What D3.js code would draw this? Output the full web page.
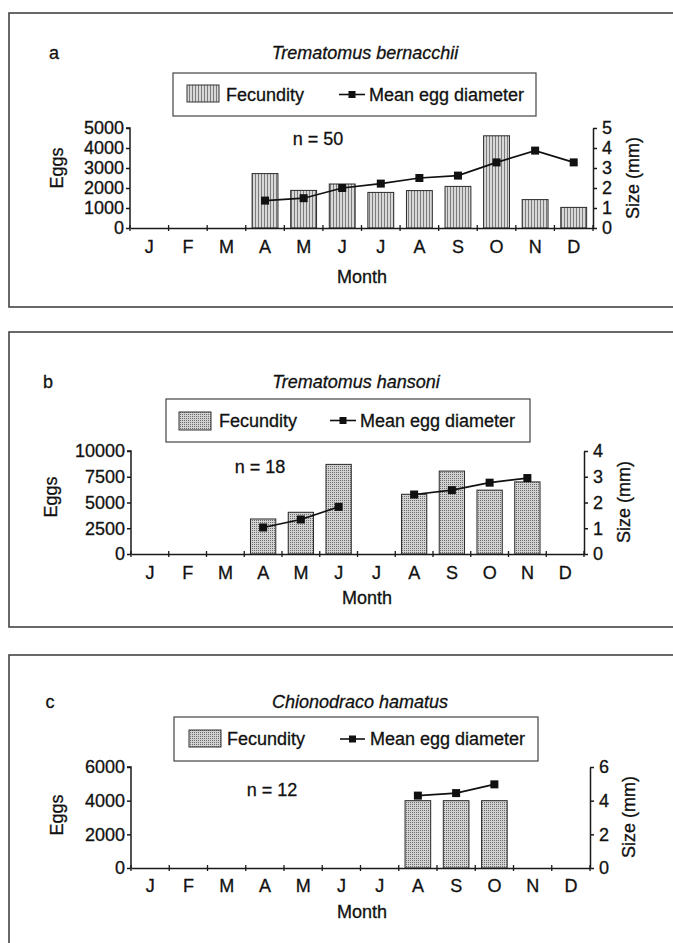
<!DOCTYPE html>
<html><head><meta charset="utf-8">
<script src="https://cdn.jsdelivr.net/npm/d3@7"></script>
<style>
html,body{margin:0;padding:0;background:#fff;}
svg{display:block;font-family:"Liberation Sans",Arial,Helvetica,sans-serif;}
text{fill:#111;stroke:#111;stroke-width:0.3px;}
</style></head>
<body>
<svg id="chart" width="673" height="943"></svg>
<script>
// ---------- DATA ----------
const months = ["J","F","M","A","M","J","J","A","S","O","N","D"];

const titleA = "Trematomus bernacchii";
const nA = "n = 50";
const fecundityA = [null,null,null,2720,1880,2200,1780,1870,2080,4610,1420,1030];
const diameterA  = [null,null,null,1.37,1.49,2.0,2.22,2.5,2.62,3.28,3.87,3.28];
const eggTicksA  = [0,1000,2000,3000,4000,5000];
const sizeTicksA = [0,1,2,3,4,5];

const titleB = "Trematomus hansoni";
const nB = "n = 18";
const fecundityB = [null,null,null,3400,4050,8700,null,5800,8050,6200,7000,null];
const diameterB  = [null,null,null,1.03,1.34,1.83,null,2.31,2.48,2.77,2.95,null];
const eggTicksB  = [0,2500,5000,7500,10000];
const sizeTicksB = [0,1,2,3,4];

const titleC = "Chionodraco hamatus";
const nC = "n = 12";
const fecundityC = [null,null,null,null,null,null,null,4000,4000,4000,null,null];
const diameterC  = [null,null,null,null,null,null,null,4.3,4.45,4.97,null,null];
const eggTicksC  = [0,2000,4000,6000];
const sizeTicksC = [0,2,4,6];

const legendLabels = ["Fecundity","Mean egg diameter"];
const axisTitles = {x:"Month", y:"Eggs", y2:"Size (mm)"};

// ---------- LAYOUT ----------
const panels = [
  {letter:"a", title:titleA, n:nA, fec:fecundityA, dia:diameterA, eggTicks:eggTicksA, sizeTicks:sizeTicksA, pattern:"stripe",
   frame:[13,307], label:[54,53], titlePos:[365,53], legend:[173,73,536,116], swatch:[187,85,219,102], fecText:226, lineSym:[339,365], meanText:369,
   plot:[130,593,128,228], monthsY:247, monthTitle:[362,277], eggsPos:[57,168], sizePos:[633,178], nPos:[318,139]},
  {letter:"b", title:titleB, n:nB, fec:fecundityB, dia:diameterB, eggTicks:eggTicksB, sizeTicks:sizeTicksB, pattern:"dots",
   frame:[332,627], label:[48,382], titlePos:[356,382], legend:[166,399,530,442], swatch:[179,412,211,430], fecText:219, lineSym:[330,356], meanText:360,
   plot:[131,584,451,554], monthsY:573, monthTitle:[367,598], eggsPos:[51,497], sizePos:[624,502], nPos:[260,467]},
  {letter:"c", title:titleC, n:nC, fec:fecundityC, dia:diameterC, eggTicks:eggTicksC, sizeTicks:sizeTicksC, pattern:"dots",
   frame:[655,990], label:[50,702], titlePos:[360,702], legend:[174,717,538,761], swatch:[189,730,221,747], fecText:227, lineSym:[340,365], meanText:370,
   plot:[131,590,767,868], monthsY:886, monthTitle:[362,912], eggsPos:[57,815], sizePos:[629,817], nPos:[272,790]}
];

const svg = d3.select("#chart");
const defs = svg.append("defs");
// stripe pattern
const ps = defs.append("pattern").attr("id","stripe").attr("patternUnits","userSpaceOnUse").attr("width",3).attr("height",3);
ps.append("rect").attr("width",3).attr("height",3).attr("fill","#d8d8d8");
ps.append("rect").attr("x",0).attr("width",1).attr("height",3).attr("fill","#7c7c7c");
// dots pattern
const pd = defs.append("pattern").attr("id","dots").attr("patternUnits","userSpaceOnUse").attr("width",2).attr("height",2);
pd.append("rect").attr("width",2).attr("height",2).attr("fill","#d2d2d2");
pd.append("rect").attr("width",1).attr("height",1).attr("fill","#6a6a6a");

const FS = 18;

panels.forEach(p => {
  const g = svg.append("g");
  // frame
  g.append("rect").attr("x",9).attr("y",p.frame[0]).attr("width",720).attr("height",p.frame[1]-p.frame[0])
    .attr("fill","none").attr("stroke","#444").attr("stroke-width",1.6);

  // panel letter & title
  g.append("text").attr("x",p.label[0]).attr("y",p.label[1]).attr("dy","0.35em").attr("text-anchor","middle")
    .attr("font-size",FS).text(p.letter);
  g.append("text").attr("x",p.titlePos[0]).attr("y",p.titlePos[1]).attr("dy","0.35em").attr("text-anchor","middle")
    .attr("font-size",FS).attr("font-style","italic").text(p.title);

  // legend
  const [lx0,ly0,lx1,ly1] = p.legend;
  const lcy = (ly0+ly1)/2;
  g.append("rect").attr("x",lx0).attr("y",ly0).attr("width",lx1-lx0).attr("height",ly1-ly0)
    .attr("fill","#fff").attr("stroke","#444").attr("stroke-width",1.2);
  const [sx0,sy0,sx1,sy1] = p.swatch;
  g.append("rect").attr("x",sx0).attr("y",sy0).attr("width",sx1-sx0).attr("height",sy1-sy0)
    .attr("fill",`url(#${p.pattern})`).attr("stroke","#333").attr("stroke-width",1);
  g.append("text").attr("x",p.fecText).attr("y",lcy).attr("dy","0.35em").attr("font-size",FS).text(legendLabels[0]);
  g.append("line").attr("x1",p.lineSym[0]).attr("x2",p.lineSym[1]).attr("y1",lcy).attr("y2",lcy)
    .attr("stroke","#111").attr("stroke-width",1.6);
  const mcx = (p.lineSym[0]+p.lineSym[1])/2;
  g.append("rect").attr("x",mcx-3.5).attr("y",lcy-3.5).attr("width",7).attr("height",7).attr("fill","#111");
  g.append("text").attr("x",p.meanText).attr("y",lcy).attr("dy","0.35em").attr("font-size",FS).text(legendLabels[1]);

  // scales
  const [px0,px1,py0,py1] = p.plot;
  const x = d3.scaleBand().domain(d3.range(months.length)).range([px0,px1]).paddingInner(0.33).paddingOuter(0.165);
  const y = d3.scaleLinear().domain([0, d3.max(p.eggTicks)]).range([py1,py0]);
  const y2 = d3.scaleLinear().domain([0, d3.max(p.sizeTicks)]).range([py1,py0]);

  // bars
  const barData = p.fec.map((v,i)=>({i,v})).filter(d=>d.v!=null);
  g.selectAll("rect.bar").data(barData).enter().append("rect").attr("class","bar")
    .attr("x",d=>x(d.i)).attr("width",x.bandwidth())
    .attr("y",d=>y(d.v)).attr("height",d=>y(0)-y(d.v))
    .attr("fill",`url(#${p.pattern})`).attr("stroke","#2a2a2a").attr("stroke-width",1);

  // axes
  const axL = g.append("g").attr("transform",`translate(${px0},0)`)
    .call(d3.axisLeft(y).tickValues(p.eggTicks).tickSize(4).tickSizeOuter(0).tickPadding(2).tickFormat(d3.format("d")));
  const axR = g.append("g").attr("transform",`translate(${px1},0)`)
    .call(d3.axisRight(y2).tickValues(p.sizeTicks).tickSize(4).tickSizeOuter(0).tickPadding(5).tickFormat(d3.format("d")));
  const axB = g.append("g").attr("transform",`translate(0,${py1})`)
    .call(d3.axisBottom(x).tickSize(0).tickPadding(p.monthsY - py1 - 6.5).tickFormat(i=>months[i]));
  [axL,axR,axB].forEach(a=>{
    a.selectAll("text").attr("font-size",FS).attr("font-family","Liberation Sans, Arial, sans-serif").attr("fill","#111");
    a.selectAll("path,line").attr("stroke","#1a1a1a").attr("stroke-width",1.5);
  });
  axL.select(".domain").attr("d",`M-4,${py0}H0V${py1}`);
  // month boundary ticks crossing x-axis
  const bounds = d3.range(months.length+1).map(k=>px0 + k*x.step());
  g.selectAll("line.xt").data(bounds).enter().append("line").attr("class","xt")
    .attr("x1",d=>d).attr("x2",d=>d).attr("y1",py1-3).attr("y2",py1+3)
    .attr("stroke","#1a1a1a").attr("stroke-width",1.3);

  // line series
  const lineData = p.dia.map((v,i)=>({i,v}));
  const line = d3.line().defined(d=>d.v!=null).x(d=>x(d.i)+x.bandwidth()/2).y(d=>y2(d.v));
  g.append("path").datum(lineData).attr("d",line).attr("fill","none").attr("stroke","#111").attr("stroke-width",1.7);
  g.selectAll("rect.mk").data(lineData.filter(d=>d.v!=null)).enter().append("rect").attr("class","mk")
    .attr("x",d=>x(d.i)+x.bandwidth()/2-4).attr("y",d=>y2(d.v)-4).attr("width",8).attr("height",8).attr("fill","#111");

  // n label
  g.append("text").attr("x",p.nPos[0]).attr("y",p.nPos[1]).attr("dy","0.35em").attr("text-anchor","middle")
    .attr("font-size",FS).text(p.n);

  // axis titles
  g.append("text").attr("x",p.monthTitle[0]).attr("y",p.monthTitle[1]).attr("dy","0.35em").attr("text-anchor","middle")
    .attr("font-size",FS).text(axisTitles.x);
  g.append("text").attr("transform",`translate(${p.eggsPos[0]},${p.eggsPos[1]}) rotate(-90)`).attr("dy","0.35em")
    .attr("text-anchor","middle").attr("font-size",FS).text(axisTitles.y);
  g.append("text").attr("transform",`translate(${p.sizePos[0]},${p.sizePos[1]}) rotate(-90)`).attr("dy","0.35em")
    .attr("text-anchor","middle").attr("font-size",FS).text(axisTitles.y2);
});
</script>
</body></html>
